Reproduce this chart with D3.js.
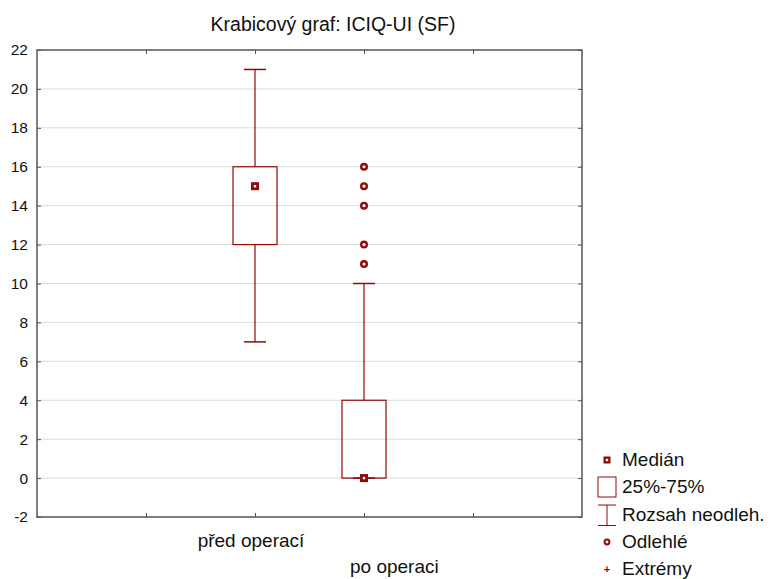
<!DOCTYPE html>
<html>
<head>
<meta charset="utf-8">
<script src="https://cdn.jsdelivr.net/npm/d3@7"></script>
<style>
  html, body { margin: 0; padding: 0; background: #fff; }
  svg { display: block; font-family: "Liberation Sans", Arial, sans-serif; }
</style>
</head>
<body>
<svg id="chart" width="773" height="579"></svg>
<script>
// Box plot data (ICIQ-UI SF score before / after surgery)
const categories = ["před operací", "po operaci"];
const medians    = [15, 0];
const q1         = [12, 0];
const q3         = [16, 4];
const whiskerLow = [7, 0];
const whiskerHigh= [21, 10];
const outliers   = [[], [11, 12, 14, 15, 16]];
const yTicks     = [-2, 0, 2, 4, 6, 8, 10, 12, 14, 16, 18, 20, 22];
const legendItems = ["Medián", "25%-75%", "Rozsah neodleh.", "Odlehlé", "Extrémy"];
const title = "Krabicový graf: ICIQ-UI (SF)";

const red = "#8f0a0a";
const svg = d3.select("#chart");
const L = 37, R = 582, T = 50, B = 517;

const y = d3.scaleLinear().domain([-2, 22]).range([B, T]);
// categories sit at positions 2 and 3 of a 0..5 axis
const x = d3.scaleLinear().domain([0, 5]).range([L, R]);
const catPos = [2, 3];
const boxW = 44, capW = 22;

// gridlines
svg.append("g").selectAll("line").data(yTicks.filter(d => d > -2 && d < 22)).join("line")
  .attr("x1", L).attr("x2", R).attr("y1", d => y(d)).attr("y2", d => y(d))
  .attr("stroke", "#dcdcdc").attr("stroke-width", 1);

// axes with inward ticks
const tickColor = "#555";
const axL = svg.append("g").attr("transform", `translate(${L},0)`)
  .call(d3.axisLeft(y).tickValues(yTicks).tickSize(-4).tickPadding(9).tickFormat(d => String(d)));
const axR = svg.append("g").attr("transform", `translate(${R},0)`)
  .call(d3.axisRight(y).tickValues(yTicks).tickSize(-4).tickFormat(""));
const axT = svg.append("g").attr("transform", `translate(0,${T})`)
  .call(d3.axisTop(x).tickValues([1, 2, 3, 4]).tickSize(-4).tickFormat(""));
const axB = svg.append("g").attr("transform", `translate(0,${B})`)
  .call(d3.axisBottom(x).tickValues([1, 2, 3, 4]).tickSize(-4).tickFormat(""));
[axL, axR, axT, axB].forEach(a => {
  a.selectAll(".tick line").attr("stroke", tickColor).attr("stroke-width", 1);
  a.select(".domain").remove();
});
axL.selectAll(".tick text").attr("font-size", 15.5).attr("fill", "#111")
  .attr("font-family", "Liberation Sans, Arial, sans-serif");
svg.append("rect").attr("x", L).attr("y", T).attr("width", R - L).attr("height", B - T)
  .attr("fill", "none").attr("stroke", tickColor).attr("stroke-width", 1.5);

// boxes
const g = svg.append("g");
categories.forEach((c, i) => {
  const cx = x(catPos[i]);
  // whisker stems
  g.append("line").attr("x1", cx).attr("x2", cx).attr("y1", y(whiskerHigh[i])).attr("y2", y(q3[i]))
    .attr("stroke", red).attr("stroke-width", 1.2);
  g.append("line").attr("x1", cx).attr("x2", cx).attr("y1", y(q1[i])).attr("y2", y(whiskerLow[i]))
    .attr("stroke", red).attr("stroke-width", 1.2);
  // caps
  [whiskerHigh[i], whiskerLow[i]].forEach(v => {
    g.append("line").attr("x1", cx - capW / 2).attr("x2", cx + capW / 2)
      .attr("y1", y(v)).attr("y2", y(v)).attr("stroke", red).attr("stroke-width", 1.5);
  });
  // box
  g.append("rect").attr("x", cx - boxW / 2).attr("y", y(q3[i]))
    .attr("width", boxW).attr("height", y(q1[i]) - y(q3[i]))
    .attr("fill", "none").attr("stroke", red).attr("stroke-width", 1.2);
  // median marker
  g.append("rect").attr("x", cx - 4).attr("y", y(medians[i]) - 4).attr("width", 8).attr("height", 8)
    .attr("fill", red);
  g.append("rect").attr("x", cx - 1.2).attr("y", y(medians[i]) - 1.2).attr("width", 2.4).attr("height", 2.4)
    .attr("fill", "#fff");
  // outliers
  outliers[i].forEach(v => {
    g.append("circle").attr("cx", cx).attr("cy", y(v)).attr("r", 2.8)
      .attr("fill", "#fff").attr("stroke", red).attr("stroke-width", 2.4);
  });
});

// category labels (staggered)
const labelX = [251, 350], labelY = [547, 573], labelAnchor = ["middle", "start"];
categories.forEach((c, i) => {
  svg.append("text").attr("x", labelX[i]).attr("y", labelY[i])
    .attr("text-anchor", labelAnchor[i]).attr("font-size", 19).attr("fill", "#111").text(c);
});

// title
svg.append("text").attr("x", 333).attr("y", 31).attr("text-anchor", "middle")
  .attr("font-size", 19.5).attr("fill", "#111").text(title);

// legend
const lx = 607, tx = 622;
const ly = [460, 487, 515, 542, 569];
const lg = svg.append("g");
lg.append("rect").attr("x", lx - 3.5).attr("y", ly[0] - 3.5).attr("width", 7).attr("height", 7).attr("fill", red);
lg.append("rect").attr("x", lx - 1.2).attr("y", ly[0] - 1.2).attr("width", 2.4).attr("height", 2.4).attr("fill", "#fff");
lg.append("rect").attr("x", 598).attr("y", 477).attr("width", 18).attr("height", 20)
  .attr("fill", "none").attr("stroke", red).attr("stroke-width", 1);
lg.append("line").attr("x1", 598).attr("x2", 616).attr("y1", 505).attr("y2", 505).attr("stroke", red);
lg.append("line").attr("x1", 598).attr("x2", 616).attr("y1", 525.5).attr("y2", 525.5).attr("stroke", red);
lg.append("line").attr("x1", lx).attr("x2", lx).attr("y1", 505).attr("y2", 525.5).attr("stroke", red);
lg.append("circle").attr("cx", lx).attr("cy", ly[3]).attr("r", 2.4)
  .attr("fill", "#fff").attr("stroke", red).attr("stroke-width", 2);
lg.append("text").attr("x", lx).attr("y", ly[4] + 3.5).attr("text-anchor", "middle")
  .attr("font-size", 11).attr("font-weight", "bold").attr("fill", red).text("+");
legendItems.forEach((t, i) => {
  lg.append("text").attr("x", tx).attr("y", ly[i] + 6).attr("font-size", 19).attr("fill", "#111").text(t);
});
</script>
</body>
</html>
